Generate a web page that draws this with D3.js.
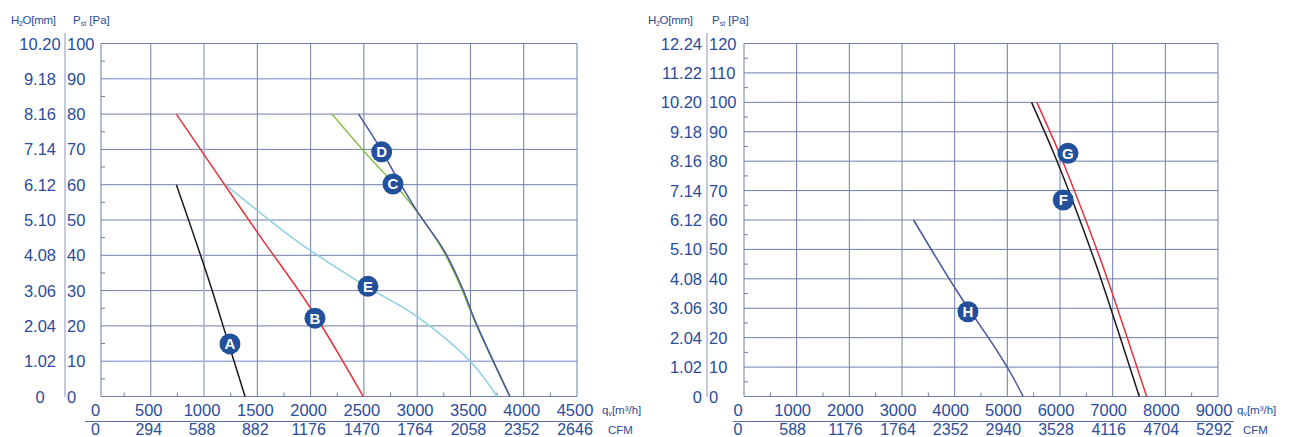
<!DOCTYPE html>
<html>
<head>
<meta charset="utf-8">
<script src="https://cdn.jsdelivr.net/npm/d3@7"></script>
<style>
  html, body { margin: 0; padding: 0; background: #fff; }
  svg { display: block; font-family: "Liberation Sans", Arial, sans-serif; }
</style>
</head>
<body>
<svg id="chart" width="1295" height="437"></svg>
<script>
// ---------- Left chart data ----------
const leftPaTicks = [0, 10, 20, 30, 40, 50, 60, 70, 80, 90, 100];
const leftMmLabels = ["0", "1.02", "2.04", "3.06", "4.08", "5.10", "6.12", "7.14", "8.16", "9.18", "10.20"];
const leftFlowTicks = [0, 500, 1000, 1500, 2000, 2500, 3000, 3500, 4000, 4500];
const leftCfmLabels = ["0", "294", "588", "882", "1176", "1470", "1764", "2058", "2352", "2646"];

const curveA = [[740, 60], [900, 46], [1050, 32.5], [1230, 15], [1385, 0]];
const curveB = [[740, 80], [1000, 68.5], [1500, 46.5], [2000, 25], [2494, 0]];
const curveC = [[2200, 80], [2500, 69.5], [2820, 59], [3000, 52.3], [3240, 41.5], [3410, 31], [3545, 21], [3870, 0]];
const curveD = [[2450, 80], [2620, 72], [2840, 60.4], [3010, 52], [3250, 41.5], [3420, 31], [3550, 21], [3870, 0]];
const curveE = [[1200, 60], [1500, 52.7], [1900, 43.4], [2500, 31.6], [3000, 22.6], [3500, 9.9], [3750, 0]];
const leftBadges = [["A", 1243, 14.9], ["B", 2041, 22.2], ["C", 2773, 60.2], ["D", 2667, 69.3], ["E", 2538, 31.2]];

// ---------- Right chart data ----------
const rightPaTicks = [0, 10, 20, 30, 40, 50, 60, 70, 80, 90, 100, 110, 120];
const rightMmLabels = ["0", "1.02", "2.04", "3.06", "4.08", "5.10", "6.12", "7.14", "8.16", "9.18", "10.20", "11.22", "12.24"];
const rightFlowTicks = [0, 1000, 2000, 3000, 4000, 5000, 6000, 7000, 8000, 9000];
const rightCfmLabels = ["0", "588", "1176", "1764", "2352", "2940", "3528", "4116", "4704", "5292"];

const curveF = [[5460, 100], [5870, 83.2], [6280, 64.6], [6690, 44.5], [7090, 23], [7505, 0]];
const curveG = [[5560, 100], [5975, 83.2], [6390, 64.6], [6810, 44.5], [7220, 23], [7645, 0]];
const curveH = [[3220, 60], [4030, 36.2], [4800, 15.7], [5100, 6.8], [5300, 0]];
const rightBadges = [["G", 6151, 82.7], ["F", 6061, 66.8], ["H", 4252, 28.8]];

// ---------- Styles ----------
const TEXT = "#2b4c9b";
const GRID = "#6f7ea9";
const BADGE = "#22509a";

const svg = d3.select("#chart");

function drawChart(cfg) {
  const g = svg.append("g");
  const x = d3.scaleLinear().domain(cfg.xDomain).range(cfg.xRange);
  const y = d3.scaleLinear().domain(cfg.yDomain).range([396.5, 43.5]);
  const left = cfg.frameLeft, right = x(cfg.xDomain[1]);
  const top = y(cfg.yDomain[1]), bottom = y(0);

  // grid horizontal
  g.selectAll(".hg").data(cfg.paTicks.filter(d => d > 0)).enter().append("line")
    .attr("x1", left).attr("x2", right)
    .attr("y1", d => y(d)).attr("y2", d => y(d))
    .attr("stroke", d => (cfg.lightH || []).includes(d) ? "#a3acd8" : GRID)
    .attr("stroke-width", d => (cfg.lightH || []).includes(d) ? 1.6 : 1);
  // grid vertical
  g.selectAll(".vg").data(cfg.flowTicks.filter(d => d > 0)).enter().append("line")
    .attr("y1", top).attr("y2", bottom)
    .attr("x1", d => x(d)).attr("x2", d => x(d))
    .attr("stroke", d => (cfg.lightV || []).includes(d) ? "#a9b2cf" : GRID)
    .attr("stroke-width", d => (cfg.lightV || []).includes(d) ? 1.6 : 1);
  // frame
  g.append("line").attr("x1", left).attr("x2", left).attr("y1", top).attr("y2", bottom).attr("stroke", GRID);
  g.append("line").attr("x1", left).attr("x2", right).attr("y1", bottom).attr("y2", bottom).attr("stroke", GRID).attr("stroke-width", 1.2);
  g.append("line").attr("x1", left).attr("x2", right).attr("y1", top).attr("y2", top).attr("stroke", GRID);

  // minor ticks
  const yStep = cfg.paTicks[1] - cfg.paTicks[0];
  const yMinor = cfg.paTicks.slice(0, -1).map(d => d + yStep / 2);
  g.selectAll(".ym").data(yMinor).enter().append("line")
    .attr("x1", left).attr("x2", left + 4)
    .attr("y1", d => y(d)).attr("y2", d => y(d)).attr("stroke", GRID);
  const xStep = cfg.flowTicks[1] - cfg.flowTicks[0];
  const xMinor = cfg.flowTicks.slice(0, -1).map(d => d + xStep / 2);
  g.selectAll(".xm").data(xMinor).enter().append("line")
    .attr("y1", bottom).attr("y2", bottom - 4)
    .attr("x1", d => x(d)).attr("x2", d => x(d)).attr("stroke", GRID);

  // separator
  g.append("line").attr("x1", cfg.sepX).attr("x2", cfg.sepX).attr("y1", 33).attr("y2", 397)
    .attr("stroke", "#8a96bb").attr("stroke-width", 1);

  // headers
  const h1 = g.append("text").attr("x", cfg.mmHeadX).attr("y", 24).attr("fill", TEXT).attr("font-size", 11.5).attr("letter-spacing", -0.3);
  h1.append("tspan").text("H");
  h1.append("tspan").attr("font-size", 7).attr("dy", 2).text("2");
  h1.append("tspan").attr("dy", -2).text("O[mm]");
  const h2 = g.append("text").attr("x", cfg.paHeadX).attr("y", 24).attr("fill", TEXT).attr("font-size", 11.5);
  h2.append("tspan").text("P");
  h2.append("tspan").attr("font-size", 7).attr("dy", 2).text("st");
  h2.append("tspan").attr("dy", -2).text(" [Pa]");

  // Pa labels
  g.selectAll(".pal").data(cfg.paTicks).enter().append("text")
    .attr("x", cfg.paLabelX).attr("y", d => y(d) + 6)
    .attr("fill", TEXT).attr("font-size", 16.5)
    .text(d => d);
  // mm labels
  g.selectAll(".mml").data(cfg.paTicks).enter().append("text")
    .attr("x", cfg.mmLabelX).attr("y", d => y(d) + 6)
    .attr("text-anchor", cfg.mmAnchor)
    .attr("fill", TEXT).attr("font-size", 16.5)
    .text((d, i) => cfg.mmLabels[i]);

  // flow labels
  const lx = (d, i) => x(d) + cfg.labelShift + (i === 0 ? cfg.zeroShift : 0);
  g.selectAll(".fl").data(cfg.flowTicks).enter().append("text")
    .attr("x", lx).attr("y", 416)
    .attr("text-anchor", "middle").attr("fill", TEXT).attr("font-size", 16.5)
    .text(d => d);
  g.selectAll(".cl").data(cfg.flowTicks).enter().append("text")
    .attr("x", lx).attr("y", 434.5)
    .attr("text-anchor", "middle").attr("fill", TEXT).attr("font-size", 16)
    .text((d, i) => cfg.cfmLabels[i]);
  // rule between rows
  g.append("line").attr("x1", cfg.ruleX[0]).attr("x2", cfg.ruleX[1]).attr("y1", 421.5).attr("y2", 421.5)
    .attr("stroke", "#5a6b9e").attr("stroke-width", 1);
  // unit labels
  const q = g.append("text").attr("x", cfg.unitX).attr("y", 414).attr("fill", TEXT).attr("font-size", 11.5);
  q.append("tspan").text("q");
  q.append("tspan").attr("font-size", 7).attr("dy", 2).text("v");
  q.append("tspan").attr("dy", -2).text("[m³/h]");
  g.append("text").attr("x", cfg.unitX + 6).attr("y", 434).attr("fill", TEXT).attr("font-size", 11.5).text("CFM");

  // curves
  const line = d3.line().x(d => x(d[0])).y(d => y(d[1])).curve(d3.curveCatmullRom.alpha(0.5));
  cfg.curves.forEach(c => {
    g.append("path").attr("d", line(c.data)).attr("fill", "none")
      .attr("stroke", c.color).attr("stroke-width", 1.5);
  });

  // badges
  const b = g.selectAll(".badge").data(cfg.badges).enter().append("g")
    .attr("transform", d => `translate(${x(d[1])},${y(d[2])})`);
  b.append("circle").attr("r", 10.5).attr("fill", BADGE);
  b.append("text").attr("text-anchor", "middle").attr("dy", 5.5)
    .attr("fill", "#fff").attr("font-size", 15).attr("font-weight", "bold")
    .text(d => d[0]);
}

drawChart({
  xDomain: [0, 4500], xRange: [97.5, 577], yDomain: [0, 100], frameLeft: 101,
  paTicks: leftPaTicks, mmLabels: leftMmLabels, flowTicks: leftFlowTicks, cfmLabels: leftCfmLabels,
  lightH: [90, 10], lightV: [1000],
  sepX: 65, mmHeadX: 11, paHeadX: 73, paLabelX: 67, mmLabelX: 40, mmAnchor: "middle",
  labelShift: -2, zeroShift: 0, ruleX: [85, 593], unitX: 602,
  curves: [
    { data: curveE, color: "#8dd0e2" },
    { data: curveA, color: "#1a1a1a" },
    { data: curveB, color: "#e5323b" },
    { data: curveC, color: "#8cc04b" },
    { data: curveD, color: "#45559f" }
  ],
  badges: leftBadges
});

drawChart({
  xDomain: [0, 9000], xRange: [744, 1218], yDomain: [0, 120], frameLeft: 744,
  paTicks: rightPaTicks, mmLabels: rightMmLabels, flowTicks: rightFlowTicks, cfmLabels: rightCfmLabels,
  lightH: [], lightV: [],
  sepX: 707, mmHeadX: 648, paHeadX: 712, paLabelX: 709, mmLabelX: 702, mmAnchor: "end",
  labelShift: -4, zeroShift: -2, ruleX: [733, 1234], unitX: 1237,
  curves: [
    { data: curveH, color: "#45559f" },
    { data: curveG, color: "#e5323b" },
    { data: curveF, color: "#1a1a1a" }
  ],
  badges: rightBadges
});
</script>
</body>
</html>
